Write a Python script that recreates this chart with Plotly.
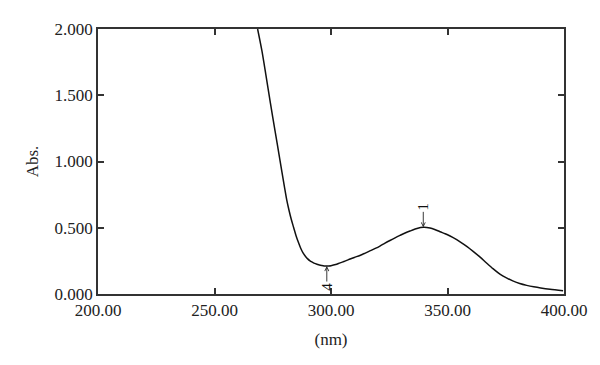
import plotly.graph_objects as go

wavelength_nm = [268.5, 270.3, 272.0, 274.0, 276.0, 278.0, 280.0, 281.0, 282.0, 283.0, 284.0,
                 285.0, 286.0, 287.0, 288.0, 289.0, 290.0, 291.0, 292.0, 293.0, 294.0, 295.0,
                 296.0, 297.0, 298.2, 299.0, 300.0, 302.0, 303.9, 306.0, 308.2, 310.0, 312.4,
                 314.5, 316.7, 319.0, 321.0, 323.0, 325.3, 327.5, 329.6, 331.8, 333.9, 336.9,
                 339.6, 342.5, 344.5, 346.8, 349.0, 351.1, 353.0, 355.4, 358.4, 361.0, 364.0,
                 366.5, 369.5, 372.5, 375.5, 378.0, 381.0, 384.0, 387.0, 390.0, 394.0, 399.6]
absorbance = [2.000, 1.840, 1.660, 1.440, 1.230, 1.020, 0.810, 0.710, 0.630, 0.560, 0.500,
              0.440, 0.390, 0.345, 0.310, 0.285, 0.265, 0.250, 0.240, 0.231, 0.225, 0.219,
              0.215, 0.212, 0.211, 0.212, 0.214, 0.222, 0.235, 0.248, 0.264, 0.276, 0.291,
              0.307, 0.325, 0.344, 0.362, 0.382, 0.404, 0.424, 0.442, 0.460, 0.475, 0.494,
              0.503, 0.498, 0.487, 0.470, 0.455, 0.438, 0.420, 0.394, 0.358, 0.322, 0.278,
              0.238, 0.191, 0.150, 0.120, 0.099, 0.079, 0.065, 0.054, 0.045, 0.035, 0.024]

peak_labels = ["4", "1"]
peak_nm = [298.2, 339.6]
peak_abs = [0.211, 0.503]
peak_offset_dir = [1, -1]

x_ticks = [200, 250, 300, 350, 400]
y_ticks = [0.0, 0.5, 1.0, 1.5, 2.0]

FONT = "Liberation Serif, Times New Roman, serif"

fig = go.Figure()
fig.add_trace(go.Scatter(x=wavelength_nm, y=absorbance, mode="lines",
                         line=dict(color="#111111", width=1.5, shape="spline", smoothing=0.8),
                         showlegend=False, hoverinfo="skip"))

for lab, xv, yv, d in zip(peak_labels, peak_nm, peak_abs, peak_offset_dir):
    fig.add_annotation(x=xv, y=yv, xref="x", yref="y", text=lab, textangle=-90,
                       showarrow=True, arrowhead=5, arrowsize=0.9, arrowwidth=0.9,
                       arrowcolor="#222222", ax=0, ay=21 * d,
                       font=dict(family=FONT, size=15, color="#111111"))

axis_common = dict(showline=True, linecolor="#333333", linewidth=1.5, mirror="ticks",
                   ticks="inside", ticklen=6, tickwidth=1.5, tickcolor="#333333",
                   showgrid=False, zeroline=False,
                   tickfont=dict(family=FONT, size=17, color="#222222"))

fig.update_xaxes(range=[200, 400], tickvals=x_ticks, tickformat=".2f",
                 title=dict(text="(nm)", font=dict(family=FONT, size=17, color="#222222"), standoff=14),
                 **axis_common)
fig.update_yaxes(range=[0, 2], tickvals=y_ticks, tickformat=".3f",
                 title=dict(text="Abs.", font=dict(family=FONT, size=17, color="#222222"), standoff=12),
                 **axis_common)

# page body has an 8px margin, so the figure is drawn at (8, 8)
fig.update_layout(width=592, height=357, margin=dict(l=90, r=36, t=21, b=71),
                  plot_bgcolor="white", paper_bgcolor="white")

fig.write_html("out.html")
